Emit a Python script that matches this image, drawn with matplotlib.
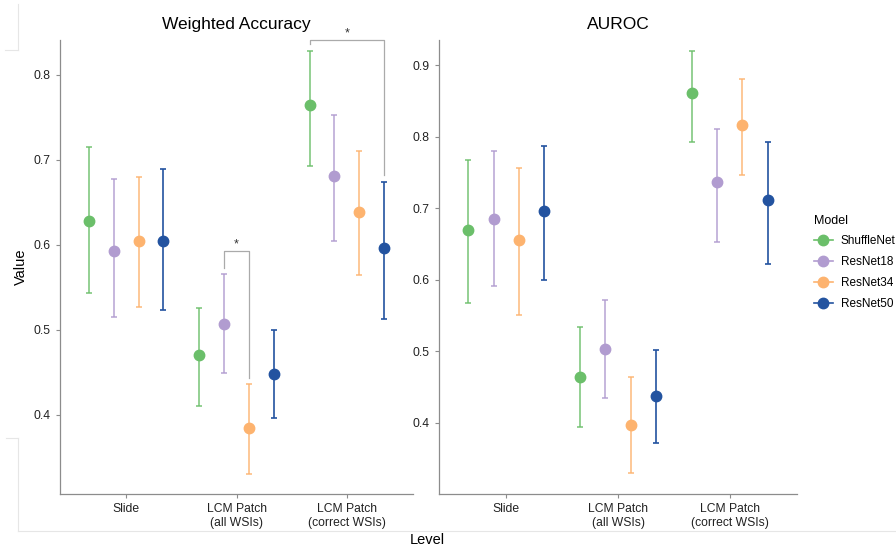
import numpy as np
import matplotlib
matplotlib.use("Agg")
import matplotlib.pyplot as plt
from matplotlib.lines import Line2D

plt.rcParams['font.family'] = ['Liberation Sans', 'DejaVu Sans']

levels = ['Slide', 'LCM Patch\n(all WSIs)', 'LCM Patch\n(correct WSIs)']
models = ['ShuffleNet', 'ResNet18', 'ResNet34', 'ResNet50']
colors = ['#6BBF6A', '#B19CD0', '#FDB36F', '#2353A0']

# weighted accuracy: rows = models, cols = levels
acc_mean = [[0.628, 0.471, 0.764],
            [0.593, 0.507, 0.681],
            [0.605, 0.385, 0.639],
            [0.605, 0.448, 0.596]]
acc_lo = [[0.544, 0.411, 0.693],
          [0.515, 0.449, 0.605],
          [0.527, 0.331, 0.565],
          [0.523, 0.396, 0.513]]
acc_hi = [[0.715, 0.526, 0.828],
          [0.678, 0.566, 0.753],
          [0.680, 0.436, 0.710],
          [0.689, 0.500, 0.674]]

# AUROC
auc_mean = [[0.669, 0.463, 0.861],
            [0.685, 0.503, 0.736],
            [0.655, 0.396, 0.816],
            [0.696, 0.437, 0.711]]
auc_lo = [[0.567, 0.394, 0.792],
          [0.591, 0.434, 0.653],
          [0.551, 0.330, 0.746],
          [0.599, 0.372, 0.622]]
auc_hi = [[0.767, 0.533, 0.920],
          [0.780, 0.572, 0.811],
          [0.756, 0.464, 0.881],
          [0.787, 0.501, 0.792]]

# significance brackets on accuracy panel: (level, model a, model b, top, leg a end, leg b end)
brackets = [(1, 1, 2, 0.593, 0.573, 0.444),
            (2, 0, 3, 0.841, 0.836, 0.682)]

dodge = 0.9
offsets = (np.arange(len(models)) - (len(models) - 1) / 2) * dodge / len(models)

fig = plt.figure(figsize=(8.96, 5.5), dpi=100)
ax1 = fig.add_axes([60 / 896, 56 / 550, 353 / 896, 454 / 550])
ax2 = fig.add_axes([439 / 896, 56 / 550, 358 / 896, 454 / 550])


def draw_panel(ax, mean, lo, hi, title, ylim, yticks):
    x = np.arange(len(levels))
    handles = []
    for i, m in enumerate(models):
        mu = np.array(mean[i])
        err = [mu - np.array(lo[i]), np.array(hi[i]) - mu]
        alpha = 1.0 if m == 'ResNet50' else 0.85
        eb = ax.errorbar(x + offsets[i], mu, yerr=err, fmt='o', color=colors[i],
                         ecolor=colors[i], elinewidth=1.2, capsize=2.5, capthick=1.2,
                         markersize=7.5, label=m, zorder=3)
        for c in eb[1]:
            c.set_alpha(alpha)
        for c in eb[2]:
            c.set_alpha(alpha)
        handles.append(Line2D([], [], color=colors[i], marker='o', markersize=7.5, lw=1.2))
    ax.set_xlim(-0.6, 2.6)
    ax.set_ylim(*ylim)
    ax.set_yticks(yticks)
    ax.set_yticklabels([f'{t:.1f}' for t in yticks])
    ax.set_xticks(x)
    ax.set_xticklabels(levels)
    ax.set_title(title, fontsize=12.5, pad=8)
    for s in ['top', 'right']:
        ax.spines[s].set_visible(False)
    for s in ['left', 'bottom']:
        ax.spines[s].set_color('#8c8c8c')
        ax.spines[s].set_linewidth(0.9)
    ax.tick_params(colors='#8c8c8c', labelcolor='#222222', labelsize=8.7, length=3, width=0.8)
    return handles


handles = draw_panel(ax1, acc_mean, acc_lo, acc_hi, 'Weighted Accuracy',
                     (0.307, 0.841), [0.4, 0.5, 0.6, 0.7, 0.8])
draw_panel(ax2, auc_mean, auc_lo, auc_hi, 'AUROC',
           (0.300, 0.935), [0.4, 0.5, 0.6, 0.7, 0.8, 0.9])

for lvl, a, b, top, ya, yb in brackets:
    xa = lvl + offsets[a]
    xb = lvl + offsets[b]
    ax1.plot([xa, xa, xb, xb], [ya, top, top, yb], color='#aaaaaa', lw=0.9,
             clip_on=False, zorder=2)
    ax1.text((xa + xb) / 2, top + 0.001, '*', ha='center', va='bottom',
             fontsize=9, color='#333333', clip_on=False)

ax1.set_ylabel('Value', fontsize=10.5, labelpad=4)
fig.text(427 / 896, 1 - 540 / 550, 'Level', ha='center', va='center', fontsize=10.5)

leg = fig.legend(handles, models, title='Model', loc='upper left',
                 bbox_to_anchor=(803 / 896, 1 - 204 / 550), frameon=False,
                 fontsize=8.5, title_fontsize=9, handlelength=1.6,
                 handletextpad=0.7, labelspacing=0.75)
leg._legend_box.align = 'left'

# faint panel borders left in the source image
faint = '#e6e6e6'
px = lambda x, y: (x / 896, 1 - y / 550)
for (x0, y0), (x1, y1) in [((18, 4), (18, 50)), ((5, 50), (18, 50)),
                           ((6, 438), (18, 438)), ((18, 438), (18, 531)),
                           ((18, 531), (896, 531))]:
    p0, p1 = px(x0, y0), px(x1, y1)
    fig.add_artist(Line2D([p0[0], p1[0]], [p0[1], p1[1]], color=faint, lw=0.8))

fig.savefig('out.png', dpi=100)
